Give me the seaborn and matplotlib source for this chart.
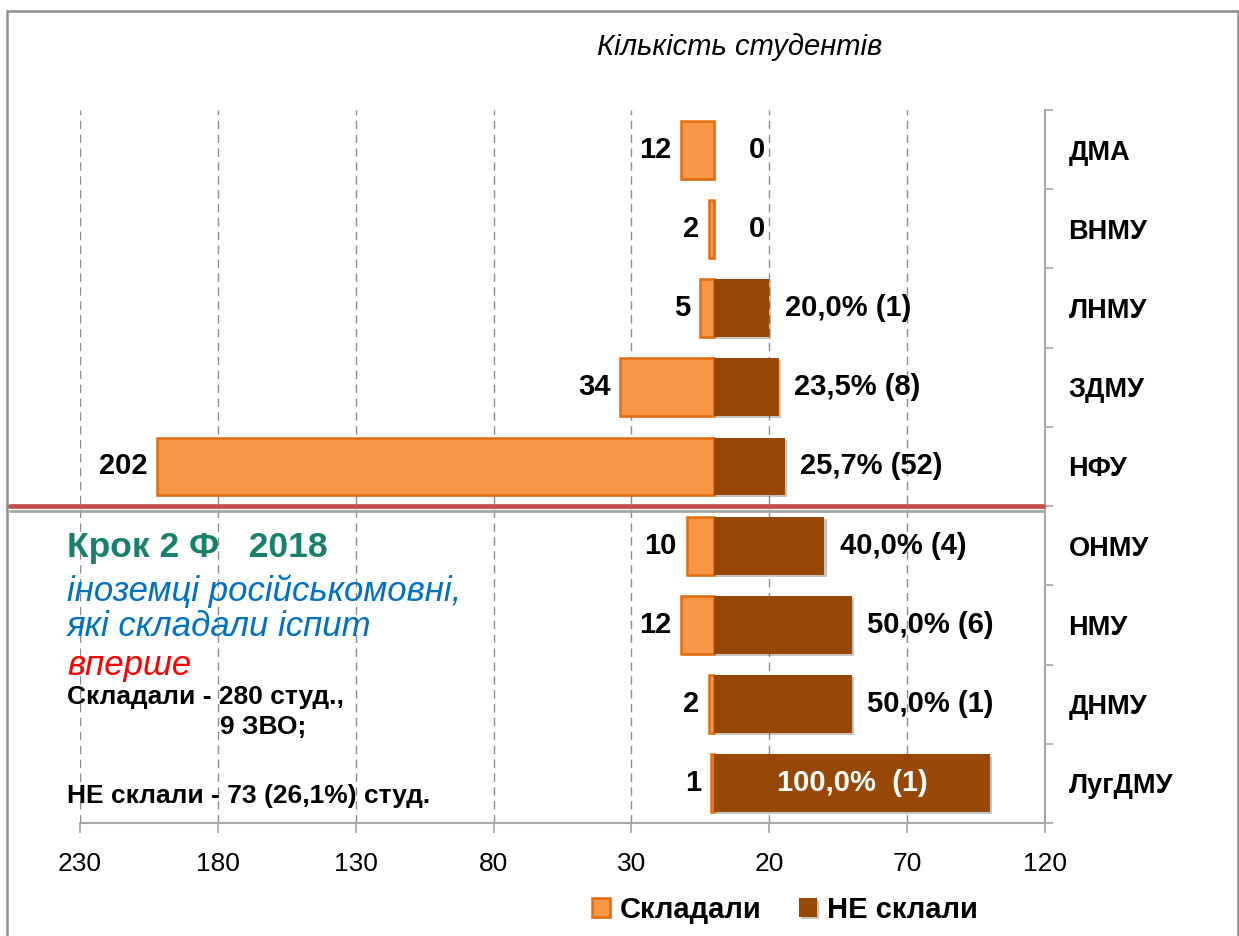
import numpy as np
import pandas as pd
import matplotlib
matplotlib.use("Agg")
import matplotlib.pyplot as plt
import matplotlib.patheffects as pe
from matplotlib.lines import Line2D
from matplotlib.patches import Rectangle
import seaborn as sns

# Data
universities = ["ДМА", "ВНМУ", "ЛНМУ", "ЗДМУ", "НФУ", "ОНМУ", "НМУ", "ДНМУ", "ЛугДМУ"]
took_exam = [12, 2, 5, 34, 202, 10, 12, 2, 1]
failed_pct = [0, 0, 20.0, 23.5, 25.7, 40.0, 50.0, 50.0, 100.0]
failed_count = [0, 0, 1, 8, 52, 4, 6, 1, 1]
tick_values = [-230, -180, -130, -80, -30, 20, 70, 120]
tick_labels = ["230", "180", "130", "80", "30", "20", "70", "120"]

LIGHT = "#F79646"
LIGHT_EDGE = "#E46C0A"
DARK = "#974706"
GREY = "#A6A6A6"

sns.set_theme(style="white")
plt.rcParams["font.family"] = ["Liberation Sans", "DejaVu Sans"]
plt.rcParams["text.color"] = "black"

df = pd.DataFrame({"zvo": universities,
                   "took": -np.array(took_exam),
                   "failed": failed_pct})

W, H = 1239, 936
fig = plt.figure(figsize=(W / 100, H / 100), dpi=100)
ax = fig.add_axes([80 / W, 1 - 823 / H, 965 / W, 713 / H])

shadow = [pe.SimplePatchShadow(offset=(1.5, -1.5), alpha=0.25), pe.Normal()]

# left side: students who took the exam, right side: % failed
sns.barplot(data=df, x="took", y="zvo", orient="h", color=LIGHT, saturation=1,
            edgecolor=LIGHT_EDGE, linewidth=1.8, width=0.73, label="Складали",
            ax=ax, zorder=3)
sns.barplot(data=df, x="failed", y="zvo", orient="h", color=DARK, saturation=1,
            linewidth=0, width=0.73, label="НЕ склали", ax=ax, zorder=4)
for p in ax.patches:
    p.set_path_effects(shadow)

if ax.get_legend() is not None:
    ax.get_legend().remove()

# value labels
for i, (n, pct, cnt) in enumerate(zip(took_exam, failed_pct, failed_count)):
    ax.annotate(str(n), xy=(-n, i), xytext=(-7, 0), textcoords="offset points",
                ha="right", va="center", fontsize=21, fontweight="bold", zorder=6)
    if cnt == 0:
        ax.annotate("0", xy=(0, i), xytext=(25, 0), textcoords="offset points",
                    ha="left", va="center", fontsize=21, fontweight="bold", zorder=6)
    elif pct >= 100:
        txt = f"{pct:.1f}%".replace(".", ",") + f"  ({cnt})"
        ax.text(pct / 2, i, txt, ha="center", va="center", color="white",
                fontsize=21, fontweight="bold", zorder=6)
    else:
        txt = f"{pct:.1f}%".replace(".", ",") + f" ({cnt})"
        ax.annotate(txt, xy=(pct, i), xytext=(11, 0), textcoords="offset points",
                    ha="left", va="center", fontsize=21, fontweight="bold", zorder=6)

# axes
ax.set_xlim(-230, 120)
ax.set_ylim(8.5, -0.5)
ax.set_xlabel("")
ax.set_ylabel("")
ax.set_xticks(tick_values, tick_labels)
ax.yaxis.tick_right()
ax.set_yticks(range(len(universities)), universities)
ax.set_yticks(np.arange(-0.5, len(universities), 1), minor=True)
ax.tick_params(axis="y", which="major", left=False, right=False, length=0,
               pad=17, labelsize=19.5, labelcolor="black")
ax.tick_params(axis="y", which="minor", left=False, right=True, length=6,
               width=1.2, color=GREY, direction="out")
for lbl in ax.get_yticklabels():
    lbl.set_fontweight("bold")
ax.tick_params(axis="x", bottom=True, length=7, width=1.2, color=GREY,
               pad=14, labelsize=19, labelcolor="black")

ax.spines[["left", "top"]].set_visible(False)
for s in ["bottom", "right"]:
    ax.spines[s].set_color(GREY)
    ax.spines[s].set_linewidth(1.5)

ax.grid(True, axis="x", linestyle=(0, (6, 4)), color="#8C8C8C", linewidth=1)
ax.grid(False, axis="y")
ax.set_axisbelow(True)

# title
fig.text(740 / W, 1 - 47 / H, "Кількість студентів", style="italic",
         fontsize=21, ha="center", va="center")

# red separator line
fig.add_artist(Line2D([10 / W, 1043 / W], [1 - 506 / H] * 2,
                      color="#C0504D", lw=3.4, zorder=7))
fig.add_artist(Line2D([10 / W, 1043 / W], [1 - 511 / H] * 2,
                      color=GREY, lw=2.0, zorder=7))

# text block
x0 = 67 / W
fig.text(x0, 1 - 548 / H, "Крок 2 Ф   2018", color="#17806D",
         fontsize=25.5, fontweight="bold", va="center")
fig.text(x0, 1 - 591 / H, "іноземці російськомовні,", color="#0070C0",
         fontsize=25, style="italic", va="center")
fig.text(x0, 1 - 627 / H, "які складали іспит", color="#0070C0",
         fontsize=25, style="italic", va="center")
fig.text(x0, 1 - 665 / H, "вперше", color="#FF0000",
         fontsize=25, style="italic", va="center")
fig.text(x0, 1 - 697 / H, "Складали - 280 студ.,", fontsize=19,
         fontweight="bold", va="center")
fig.text(220 / W, 1 - 727 / H, "9 ЗВО;", fontsize=19,
         fontweight="bold", va="center")
fig.text(x0, 1 - 796 / H, "НЕ склали - 73 (26,1%) студ.", fontsize=19,
         fontweight="bold", va="center")

# legend
handles, labels = ax.get_legend_handles_labels()
fig.legend(handles, labels, loc="center", bbox_to_anchor=(785 / W, 1 - 910 / H),
           ncol=2, frameon=False, prop={"weight": "bold", "size": 21},
           handlelength=0.6, handleheight=0.6, handletextpad=0.35,
           columnspacing=1.3)

# outer frame
fig.add_artist(Rectangle((7 / W, -0.01), (1238 - 7) / W, 1 - 11 / H + 0.01,
                         transform=fig.transFigure, fill=False,
                         edgecolor="#8C8C8C", lw=1.8))

fig.savefig("out.png", dpi=100)
